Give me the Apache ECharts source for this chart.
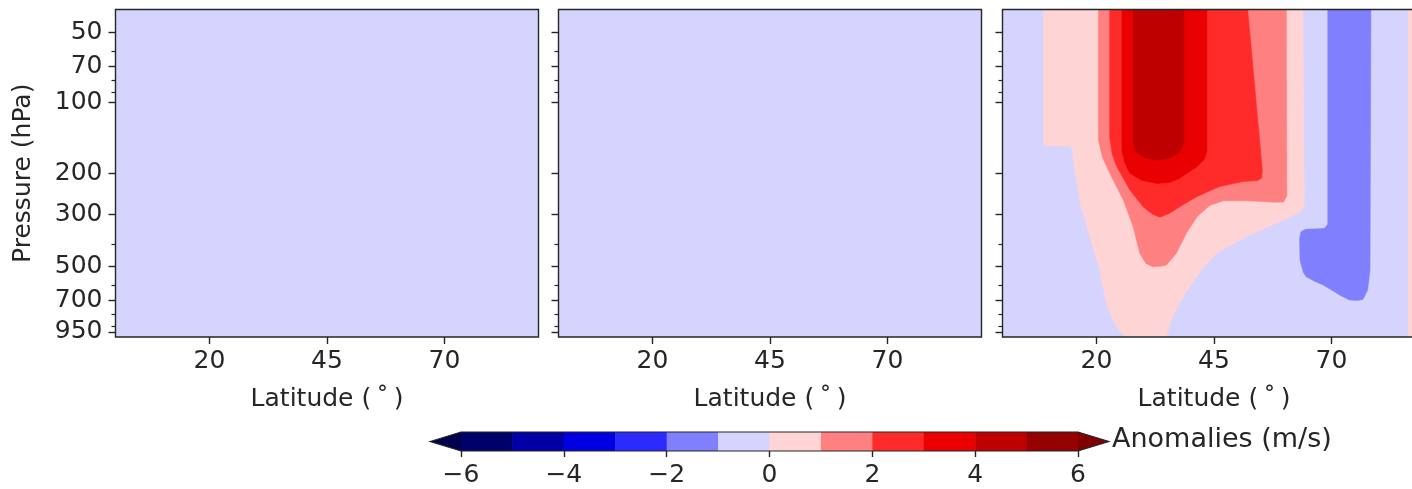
<!DOCTYPE html>
<html>
<head>
<meta charset="utf-8">
<script src="https://cdn.jsdelivr.net/npm/echarts@6/dist/echarts.min.js"></script>
<style>
  html, body { margin: 0; padding: 0; background: #ffffff; overflow: hidden; }
  #chart { width: 1440px; height: 489px; }
</style>
</head>
<body>
<div id="chart"></div>
<script>
// Zonal-mean wind anomaly cross-sections (latitude vs pressure), three panels and a shared colour bar.

const latRange = [0, 90];
const presRange = [40, 1000];
const latTicks = [20, 45, 70];
const presTicks = [50, 70, 100, 200, 300, 500, 700, 950];
const presMinorTicks = [60, 80, 90, 400, 600, 800, 900];

// contour levels (m/s) and the colour of each band between two levels
const levels = [-6, -5, -4, -3, -2, -1, 0, 1, 2, 3, 4, 5, 6];
const bandColors = ['#00006a', '#0000a6', '#0000e1', '#2b2bff', '#8080ff', '#d4d4ff',
                    '#ffd4d4', '#ff8080', '#ff2b2b', '#ea0000', '#bf0000', '#950000'];
const underColor = '#00004d';
const overColor = '#800000';
const cbTicks = [-6, -4, -2, 0, 2, 4, 6];

// filled contour regions as [latitude, hPa] outlines
const wholeDomain = [[0, 35], [90, 35], [90, 1000], [0, 1000]];

const p3Above0 = [[8.7, 35], [8.7, 150], [9.2, 153], [14.4, 153], [14.9, 160], [15.1, 180], [15.5, 200],
  [16.5, 269], [18.6, 373], [20.7, 518], [22.1, 718], [23.5, 846], [25.0, 950], [26.3, 1000],
  [34.8, 1000], [35.2, 950], [35.9, 846], [37.7, 718], [39.8, 610], [42.3, 518], [45.5, 439],
  [51.9, 373], [58.3, 327], [61.5, 305], [63.4, 292], [64.2, 275], [64.2, 230], [63.9, 35]];

const p3Above0East = [[86.3, 35], [90, 35], [90, 1000], [86.3, 1000]];

const p3Above1 = [[20.4, 35], [20.4, 144], [21.3, 172], [22.8, 200], [25.7, 260], [27.8, 338],
  [29.2, 439], [30.5, 485], [32.0, 501], [33.6, 499], [34.9, 493], [37.0, 439], [39.2, 358],
  [41.5, 305], [44.0, 275], [47.0, 262], [52.0, 262], [58.0, 266], [59.8, 265], [60.5, 250],
  [60.5, 230], [60.4, 35]];

const p3Above2 = [[22.8, 35], [22.8, 140], [23.3, 165], [24.3, 187], [27.1, 236], [29.9, 278],
  [32.0, 300], [33.5, 308], [35.6, 296], [38.5, 272], [41.3, 252], [46.2, 228], [51.2, 217],
  [54.3, 215], [55.1, 210], [55.3, 195], [51.9, 35]];

const p3Above3 = [[25.4, 35], [25.4, 160], [26.0, 180], [27.1, 200], [29.5, 214], [32.8, 221],
  [35.5, 219], [37.5, 211], [41.3, 188], [43.0, 174], [43.5, 160], [43.5, 35]];

const p3Above4 = [[27.8, 35], [27.8, 148], [28.4, 162], [30.3, 172], [33.0, 176], [35.6, 172],
  [37.8, 162], [38.6, 148], [38.6, 35]];

const p3BelowMinus1 = [[69.2, 35], [69.2, 330], [68.5, 344], [64.5, 347], [63.5, 355], [63.2, 380],
  [63.3, 470], [64.0, 530], [64.6, 553], [66.5, 580], [68.2, 600], [70.0, 630], [71.7, 662],
  [73.8, 695], [75.5, 698], [76.7, 692], [77.7, 630], [78.2, 518], [78.4, 35]];

// each region is painted with the band whose lower level is `from`
const panelRegions = [
  [{ from: -1, outline: wholeDomain }],
  [{ from: -1, outline: wholeDomain }],
  [
    { from: -1, outline: wholeDomain },
    { from: 0, outline: p3Above0 },
    { from: 0, outline: p3Above0East },
    { from: 1, outline: p3Above1 },
    { from: 2, outline: p3Above2 },
    { from: 3, outline: p3Above3 },
    { from: 4, outline: p3Above4 },
    { from: -2, outline: p3BelowMinus1 }
  ]
];

const FONT = 'DejaVu Sans';
const INK = '#262626';
const FS = 25;
const panelLeft = [115.5, 558.5, 1002.5];
const panelTop = 9.5, panelWidth = 423, panelHeight = 327.5;

const grids = [];
const xAxes = [];
const yAxes = [];
const series = [];

panelRegions.forEach(function (regions, g) {
  grids.push({
    left: panelLeft[g], top: panelTop, width: panelWidth, height: panelHeight,
    show: true, backgroundColor: 'transparent', borderColor: INK, borderWidth: 1.4, z: 10,
    containLabel: false
  });
  xAxes.push({
    type: 'value', gridIndex: g, min: latRange[0], max: latRange[1],
    axisLine: { show: false }, splitLine: { show: false },
    axisTick: { show: true, length: 7, customValues: latTicks, lineStyle: { color: INK, width: 1.4 } },
    axisLabel: { customValues: latTicks, fontSize: FS, color: INK, fontFamily: FONT, margin: 12 },
    name: 'Latitude (\u2009\u02DA\u2009)', nameLocation: 'middle', nameGap: 50,
    nameTextStyle: { fontSize: FS, color: INK, fontFamily: FONT }
  });
  yAxes.push({
    type: 'log', logBase: 10, gridIndex: g, position: 'left', offset: 0,
    min: presRange[0], max: presRange[1], inverse: true,
    axisLine: { show: false }, splitLine: { show: false }, minorTick: { show: false },
    axisTick: { show: true, length: 7, customValues: presTicks, lineStyle: { color: INK, width: 1.4 } },
    axisLabel: {
      show: g === 0, customValues: presTicks, fontSize: FS, color: INK, fontFamily: FONT, margin: 13,
      formatter: function (v) { return String(Math.round(v)); }
    },
    name: g === 0 ? 'Pressure (hPa)' : '', nameLocation: 'middle', nameGap: 80,
    nameTextStyle: { fontSize: FS, color: INK, fontFamily: FONT }
  });
  yAxes.push({
    type: 'log', logBase: 10, gridIndex: g, position: 'left', offset: 0,
    min: presRange[0], max: presRange[1], inverse: true,
    axisLine: { show: false }, splitLine: { show: false }, minorTick: { show: false },
    axisTick: { show: true, length: 4, customValues: presMinorTicks, lineStyle: { color: INK, width: 1.2 } },
    axisLabel: { show: false }
  });
  series.push({
    type: 'custom', xAxisIndex: g, yAxisIndex: 2 * g, clip: true, z: 2,
    data: regions.map(function (r) { return r.outline[r.outline.length - 1]; }),
    renderItem: function (params, api) {
      const r = regions[params.dataIndex];
      const idx = levels.indexOf(r.from);
      return {
        type: 'polygon',
        shape: { points: r.outline.map(function (pt) { return api.coord(pt); }) },
        style: { fill: bandColors[idx], stroke: bandColors[idx], lineWidth: 0.5 }
      };
    }
  });
});

// colour bar
const cbGrid = grids.length;
grids.push({ left: 461, top: 432, width: 617, height: 19, show: false });
xAxes.push({
  type: 'value', gridIndex: cbGrid, min: levels[0], max: levels[levels.length - 1],
  axisLine: { show: false }, splitLine: { show: false },
  axisTick: { show: true, length: 6, customValues: cbTicks, lineStyle: { color: INK, width: 1.4 } },
  axisLabel: {
    customValues: cbTicks, fontSize: FS, color: INK, fontFamily: FONT, margin: 12,
    formatter: function (v) { return v < 0 ? '\u2212' + Math.abs(v) : String(v); }
  }
});
const cbY = yAxes.length;
yAxes.push({ type: 'value', gridIndex: cbGrid, min: 0, max: 1, show: false });

const extendFrac = 0.05 * (levels[levels.length - 1] - levels[0]);
series.push({
  type: 'custom', xAxisIndex: cbGrid, yAxisIndex: cbY, z: 2,
  data: bandColors.map(function (c, i) { return [levels[i], levels[i + 1]]; }),
  renderItem: function (params, api) {
    const a = api.coord([api.value(0), 1]);
    const b = api.coord([api.value(1), 0]);
    return {
      type: 'rect',
      shape: { x: a[0], y: a[1], width: b[0] - a[0] + 0.5, height: b[1] - a[1] },
      style: { fill: bandColors[params.dataIndex] }
    };
  }
});
series.push({
  type: 'custom', xAxisIndex: cbGrid, yAxisIndex: cbY, z: 3,
  data: [[levels[0], -1], [levels[levels.length - 1], 1]],
  renderItem: function (params, api) {
    const edge = api.value(0), dir = api.value(1);
    return {
      type: 'polygon',
      shape: { points: [api.coord([edge, 0]), api.coord([edge, 1]), api.coord([edge + dir * extendFrac, 0.5])] },
      style: { fill: dir < 0 ? underColor : overColor }
    };
  }
});
series.push({
  type: 'custom', xAxisIndex: cbGrid, yAxisIndex: cbY, z: 4,
  data: [[levels[0], levels[levels.length - 1]]],
  renderItem: function (params, api) {
    const lo = api.value(0), hi = api.value(1);
    return {
      type: 'polygon',
      shape: { points: [api.coord([lo - extendFrac, 0.5]), api.coord([lo, 1]), api.coord([hi, 1]),
                        api.coord([hi + extendFrac, 0.5]), api.coord([hi, 0]), api.coord([lo, 0])] },
      style: { fill: 'none', stroke: INK, lineWidth: 1.2 }
    };
  }
});

const chart = echarts.init(document.getElementById('chart'), null, { renderer: 'canvas' });
chart.setOption({
  animation: false,
  backgroundColor: '#ffffff',
  title: {
    text: 'Anomalies (m/s)', left: 1112, top: 426, padding: 0,
    textStyle: { fontSize: 27, fontWeight: 'normal', color: INK, fontFamily: FONT }
  },
  grid: grids,
  xAxis: xAxes,
  yAxis: yAxes,
  series: series
});
</script>
</body>
</html>
